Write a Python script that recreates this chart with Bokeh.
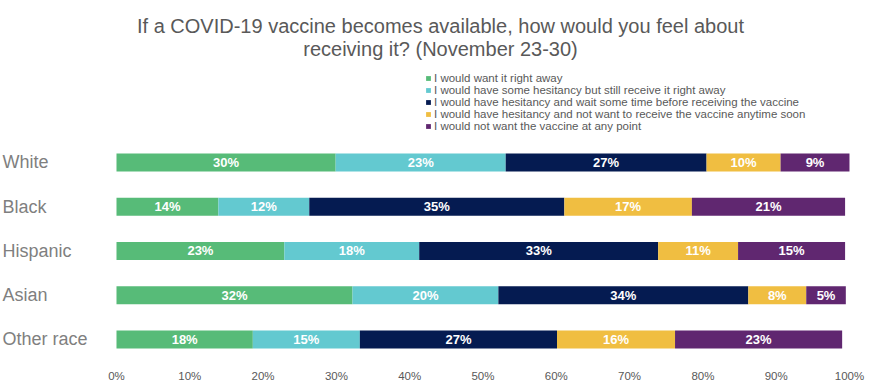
from bokeh.plotting import figure
from bokeh.models import (ColumnDataSource, Range1d, FixedTicker,
                          PrintfTickFormatter, Label)
from bokeh.core.properties import value
from bokeh.embed import file_html
from bokeh.resources import INLINE

categories = ["White", "Black", "Hispanic", "Asian", "Other race"]
series_names = [
    "I would want it right away",
    "I would have some hesitancy but still receive it right away",
    "I would have hesitancy and wait some time before receiving the vaccine",
    "I would have hesitancy and not want to receive the vaccine anytime soon",
    "I would not want the vaccine at any point",
]
want_now = [29.9, 13.9, 22.9, 32.2, 18.6]
some_hesitancy = [23.2, 12.4, 18.4, 19.9, 14.6]
wait_some_time = [27.4, 34.8, 32.6, 34.1, 26.9]
not_soon = [10.1, 17.4, 10.9, 7.9, 16.1]
never = [9.4, 20.9, 14.6, 5.4, 22.8]

labels_want_now = ["30%", "14%", "23%", "32%", "18%"]
labels_some_hesitancy = ["23%", "12%", "18%", "20%", "15%"]
labels_wait_some_time = ["27%", "35%", "33%", "34%", "27%"]
labels_not_soon = ["10%", "17%", "11%", "8%", "16%"]
labels_never = ["9%", "21%", "15%", "5%", "23%"]

tick_values = [0, 10, 20, 30, 40, 50, 60, 70, 80, 90, 100]

title_line1 = "If a COVID-19 vaccine becomes available, how would you feel about"
title_line2 = "receiving it? (November 23-30)"

colors = ["#57BB78", "#63C9D0", "#051B51", "#F0BE41", "#602770"]
series = [want_now, some_hesitancy, wait_some_time, not_soon, never]
series_labels = [labels_want_now, labels_some_hesitancy, labels_wait_some_time,
                 labels_not_soon, labels_never]

# rows from top (first category) to bottom
n = len(categories)
keys = ["s%d" % i for i in range(len(series))]
data = {"cat": categories, "row": [n - 1 - i for i in range(n)]}
cum = [0.0] * n
for i, (vals, labs) in enumerate(zip(series, series_labels)):
    data[keys[i]] = vals
    data["c%d" % i] = [c + v / 2.0 for c, v in zip(cum, vals)]
    data["l%d" % i] = labs
    cum = [c + v for c, v in zip(cum, vals)]
source = ColumnDataSource(data)

W, H = 872, 389
x0, x1 = -15.825, 103.14

p = figure(
    width=W, height=H, title=None,
    y_range=Range1d(-0.633, 7.661),
    x_range=Range1d(x0, x1),
    output_backend="svg", toolbar_location=None,
    min_border_left=0, min_border_right=0, min_border_top=0, min_border_bottom=22,
)

p.hbar_stack(keys, y="row", height=0.407, color=colors, line_color=None,
             source=source, legend_label=series_names)

for i in range(len(series)):
    p.text(x="c%d" % i, y="row", text="l%d" % i, source=source,
           text_align="center", text_baseline="middle",
           text_font=value("Liberation Sans"), text_font_size="13px",
           text_font_style="bold", text_color="white")

p.text(x=x0, y="row", text="cat", source=source, text_align="left",
       text_baseline="middle", text_font=value("Liberation Sans"),
       text_font_size="18px", text_color="#7f7f7f", x_offset=2)

p.yaxis.visible = False
p.xaxis.ticker = FixedTicker(ticks=tick_values)
p.xaxis.formatter = PrintfTickFormatter(format="%d%%")
p.xaxis.axis_line_color = None
p.xaxis.major_tick_line_color = None
p.xaxis.minor_tick_line_color = None
p.xaxis.major_tick_out = 0
p.xaxis.major_tick_in = 0
p.xaxis.major_label_standoff = 2
p.xaxis.major_label_text_font = "Liberation Sans"
p.xaxis.major_label_text_font_size = "11.5px"
p.xaxis.major_label_text_color = "#595959"
p.xgrid.visible = False
p.ygrid.visible = False
p.outline_line_color = None

lg = p.legend[0]
lg.location = (425, 235)
lg.border_line_color = None
lg.background_fill_alpha = 0
lg.padding = 0
lg.margin = 0
lg.spacing = 0
lg.glyph_width = 6
lg.glyph_height = 6
lg.label_height = 12
lg.label_standoff = 3
lg.label_text_font = "Liberation Sans"
lg.label_text_font_size = "11.5px"
lg.label_text_color = "#595959"

for txt, yy in ((title_line1, 342), (title_line2, 319)):
    p.add_layout(Label(x=440, y=yy, x_units="screen", y_units="screen", text=txt,
                       text_align="center", text_baseline="alphabetic",
                       text_font="Liberation Sans", text_font_size="20px",
                       text_color="#595959"))

open("out.html", "w").write(file_html(p, INLINE))
